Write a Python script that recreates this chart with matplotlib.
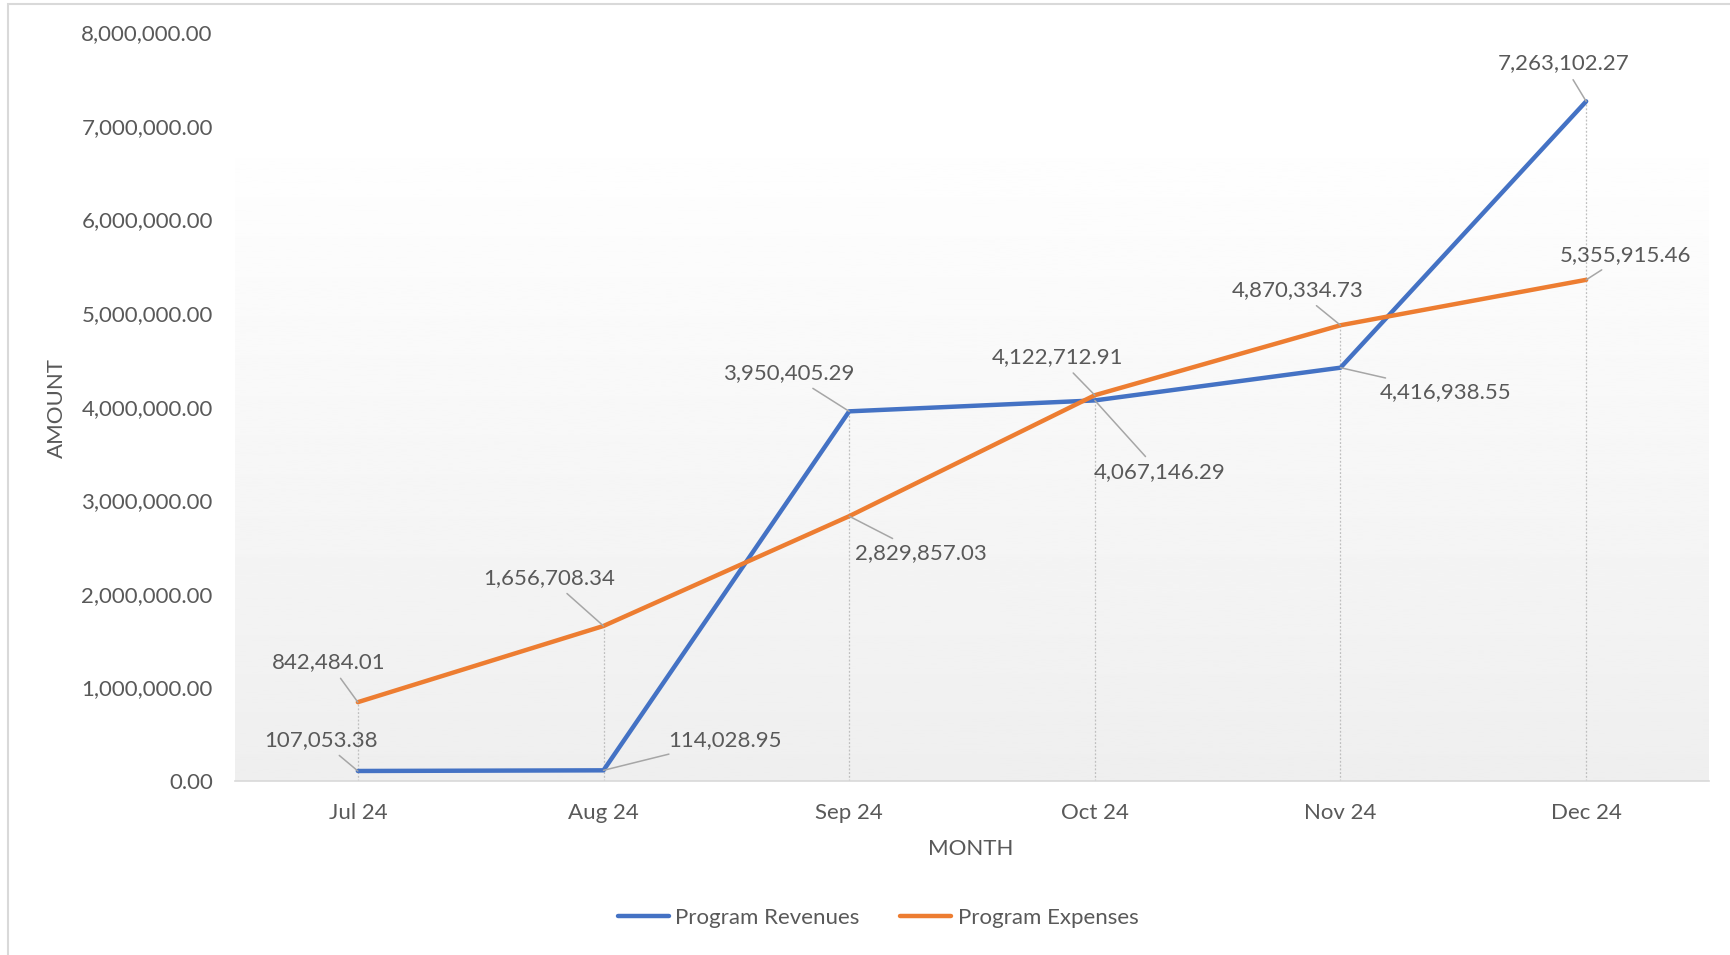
import matplotlib.pyplot as plt
import numpy as np
from matplotlib.patches import Rectangle

months = ["Jul 24", "Aug 24", "Sep 24", "Oct 24", "Nov 24", "Dec 24"]
revenues = [107053.38, 114028.95, 3950405.29, 4067146.29, 4416938.55, 7263102.27]
expenses = [842484.01, 1656708.34, 2829857.03, 4122712.91, 4870334.73, 5355915.46]

# label offsets in pixels (dx, dy) from each point
rev_off = [(-37, 31), (121, 30), (-60, 38), (65, -72), (105, -24), (-23, 38)]
exp_off = [(-29, 40), (-54, 48), (72, -37), (-37, 38), (-43, 35), (39, 25)]

plt.rcParams['font.family'] = ['Lato', 'DejaVu Sans']
txt = '#595959'
blue = '#4472C4'
orange = '#ED7D31'
fs = 16

fig = plt.figure(figsize=(17.31, 9.55), dpi=100)
ax = fig.add_axes([235 / 1731, 1 - 781 / 955, (1709 - 235) / 1731, (781 - 32.4) / 955])

x = np.arange(len(months))
ax.set_xlim(-0.5, len(months) - 0.5)
ax.set_ylim(0, 8000000)

# gradient plot area background
grad = np.linspace(1.0, 0.935, 256).reshape(-1, 1)
ax.imshow(grad, cmap='gray', vmin=0, vmax=1, aspect='auto',
          extent=(-0.5, len(months) - 0.5, 0, 7080000), zorder=0)

# drop lines
tops = [max(r, e) for r, e in zip(revenues, expenses)]
ax.vlines(x, 0, tops, colors='#bfbfbf', linestyles=(0, (1.5, 1.5)), lw=0.9, zorder=1)

ax.plot(x, revenues, color=blue, lw=3.2, label='Program Revenues', zorder=3,
        solid_capstyle='round', solid_joinstyle='round')
ax.plot(x, expenses, color=orange, lw=3.2, label='Program Expenses', zorder=3,
        solid_capstyle='round', solid_joinstyle='round')

def labels(vals, offs):
    for i, (v, (dx, dy)) in enumerate(zip(vals, offs)):
        ax.annotate(f"{v:,.2f}", (i, v), xytext=(dx, dy), textcoords='offset pixels',
                    ha='center', va='center', fontsize=fs, color=txt, zorder=5,
                    arrowprops=dict(arrowstyle='-', color='#a6a6a6', lw=1.1,
                                    shrinkA=3, shrinkB=0))

labels(revenues, rev_off)
labels(expenses, exp_off)

ax.set_xticks(x)
ax.set_xticklabels(months)
yt = np.arange(0, 8000001, 1000000)
ax.set_yticks(yt)
ax.set_yticklabels([f"{v:,.2f}" for v in yt])
ax.tick_params(length=0, labelsize=fs, colors=txt)
ax.tick_params(axis='x', pad=16)
ax.tick_params(axis='y', pad=16)
for s in ['top', 'right', 'left']:
    ax.spines[s].set_visible(False)
ax.spines['bottom'].set_color('#d9d9d9')
ax.spines['bottom'].set_linewidth(1.2)

fig.text(971 / 1731, 1 - 849 / 955, 'MONTH', ha='center', va='center', fontsize=fs, color=txt)
fig.text(57 / 1731, 1 - 408 / 955, 'AMOUNT', ha='center', va='center', fontsize=fs,
         color=txt, rotation=90)

fig.legend(loc='center', bbox_to_anchor=(878 / 1731, 1 - 918 / 955), ncol=2, frameon=False,
           fontsize=fs, labelcolor=txt, handlelength=2.3, columnspacing=1.8, handletextpad=0.3)

# chart border
fig.patches.append(Rectangle((8 / 1731, -0.1), 1.2, 1 - 4 / 955 + 0.1, transform=fig.transFigure,
                             fill=False, edgecolor='#d9d9d9', lw=1.5))

fig.savefig('out.png', dpi=100)
